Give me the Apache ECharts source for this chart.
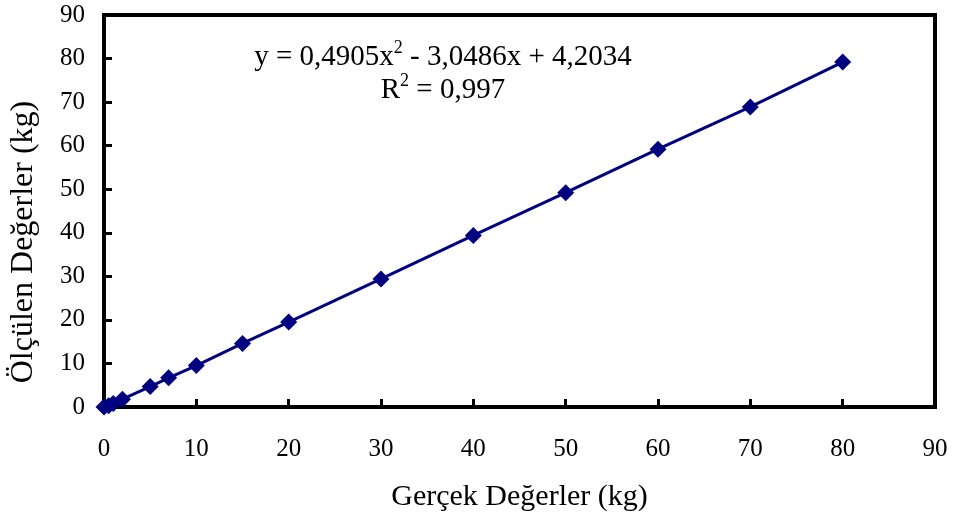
<!DOCTYPE html>
<html>
<head>
<meta charset="utf-8">
<script src="https://cdn.jsdelivr.net/npm/echarts@6/dist/echarts.min.js"></script>
<style>
    html, body { margin: 0; padding: 0; background: #fff; }
    #chart { width: 956px; height: 525px; }
</style>
</head>
<body>
<div id="chart"></div>
<script>
// measured (x) vs. read-off (y) values, kg
const actualKg = [0, 0.5, 1, 2, 5, 7, 10, 15, 20, 30, 40, 50, 60, 70, 80];
const measuredKg = [0, 0.3, 0.8, 1.8, 4.7, 6.7, 9.5, 14.6, 19.5, 29.4, 39.4, 49.2, 59.2, 68.9, 79.2];

const xTitle = 'Gerçek Değerler (kg)';
const yTitle = 'Ölçülen Değerler (kg)';

const font = 'Liberation Serif';

const chart = echarts.init(document.getElementById('chart'));

const options = {
    backgroundColor: '#fff',
    animation: false,
    grid: {
        left: 102,
        top: 15,
        right: 21,
        bottom: 118,
        show: true,
        borderColor: '#000',
        borderWidth: 4
    },
    // trendline equation
    title: {
        text: 'y = 0,4905x{sup|2} - 3,0486x + 4,2034\nR{sup|2} = 0,997',
        left: 438,
        top: 36,
        textAlign: 'center',
        textStyle: {
            fontFamily: font,
            fontSize: 29,
            fontWeight: 'normal',
            color: '#000',
            lineHeight: 33,
            rich: {
                sup: {
                    fontFamily: font,
                    fontSize: 18,
                    color: '#000',
                    lineHeight: 33,
                    padding: [0, 0, 18, 0]
                }
            }
        }
    },
    xAxis: {
        type: 'value',
        min: 0,
        max: 90,
        interval: 10,
        name: xTitle,
        nameLocation: 'middle',
        nameGap: 75,
        nameTextStyle: { fontFamily: font, fontSize: 30, color: '#000' },
        axisLine: { lineStyle: { color: '#000', width: 4 } },
        axisTick: { inside: true, length: 8, lineStyle: { color: '#000', width: 3 } },
        axisLabel: { fontFamily: font, fontSize: 25, color: '#000', margin: 30 },
        splitLine: { show: false }
    },
    yAxis: {
        type: 'value',
        min: 0,
        max: 90,
        interval: 10,
        name: yTitle,
        nameLocation: 'middle',
        nameGap: 64,
        nameRotate: 90,
        nameTextStyle: { fontFamily: font, fontSize: 32, color: '#000', padding: [0, 62, 0, 0] },
        axisLine: { lineStyle: { color: '#000', width: 4 } },
        axisTick: { inside: true, length: 8, lineStyle: { color: '#000', width: 3 } },
        axisLabel: { fontFamily: font, fontSize: 25, color: '#000', margin: 19 },
        splitLine: { show: false }
    },
    series: [
        {
            type: 'line',
            data: actualKg.map((x, i) => [x, measuredKg[i]]),
            symbol: 'diamond',
            symbolSize: 17,
            clip: false,
            itemStyle: { color: '#000080' },
            lineStyle: { color: '#000080', width: 3 },
            z: 5
        }
    ]
};

chart.setOption(options);
</script>
</body>
</html>
